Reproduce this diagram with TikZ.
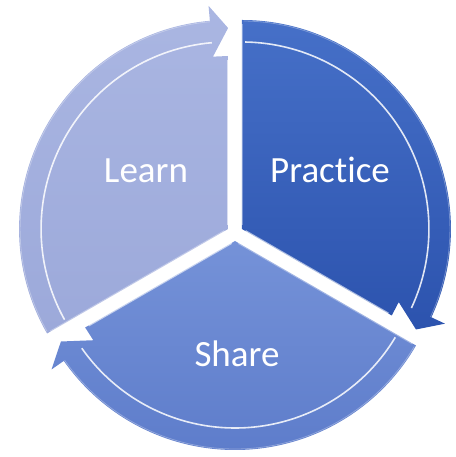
\documentclass[tikz,border=0pt]{standalone}
\usepackage{fontspec}
\setmainfont[Ligatures=NoCommon]{Carlito}
\usetikzlibrary{calc}

\definecolor{learnTop}{HTML}{AAB6E2}
\definecolor{learnBot}{HTML}{9CA9DA}
\definecolor{practiceTop}{HTML}{4670C8}
\definecolor{practiceBot}{HTML}{2C53AE}
\definecolor{shareTop}{HTML}{7592D8}
\definecolor{shareBot}{HTML}{5E7DCB}

% radii of a piece and angle taken by the arrow head
\newcommand{\rout}{209}
\newcommand{\headang}{5}

% #1 start angle, #2 end angle (clockwise), #3 shift direction, #4 fill style
\newcommand{\cyclepiece}[4]{%
  \begin{scope}[shift={(#3:8)}]
    \path[#4] (0,0) -- (#1:\rout)
      arc[start angle=#1, end angle=#2+\headang, radius=\rout]
      -- (#2+\headang:\rout+15) -- (#2:\rout-8)
      -- (#2+\headang:\rout-36) -- (#2:\rout-36) -- cycle;
    \draw[rim glow] (#1-1:\rout-22)
      arc[start angle=#1-1, end angle=#2+\headang, radius=\rout-22];
    \draw[rim edge] (#1-0.5:\rout-1)
      arc[start angle=#1-0.5, end angle=#2+\headang, radius=\rout-1];
    \draw[side glow] (#2:4) -- (#2:\rout-40);
    \draw[side glow, opacity=0.35] (#1:4) -- (#1:\rout-4);
  \end{scope}}

\tikzset{
  rim glow/.style={white, line width=1.6pt, opacity=0.85},
  rim edge/.style={white, line width=0.8pt, opacity=0.3},
  side glow/.style={white, line width=2pt, opacity=0.6},
  learn piece/.style={top color=learnTop, bottom color=learnBot},
  practice piece/.style={top color=practiceTop, bottom color=practiceBot},
  share piece/.style={top color=shareTop, bottom color=shareBot},
  step label/.style={text=white, font=\fontsize{37}{42}\selectfont, anchor=base}
}

\begin{document}
\begin{tikzpicture}[x=1pt, y=1pt]
\useasboundingbox (0,0) rectangle (455,457);

\begin{scope}[shift={(235,224)}]
  \cyclepiece{210}{90}{150}{learn piece}
  \cyclepiece{90}{-30}{30}{practice piece}
  \cyclepiece{-30}{-150}{-90}{share piece}
\end{scope}

\node[step label] (learn)    at (146,274) {Learn};
\node[step label] (practice) at (330,274) {Practice};
\node[step label] (share)    at (237,90)  {Share};
\end{tikzpicture}
\end{document}
